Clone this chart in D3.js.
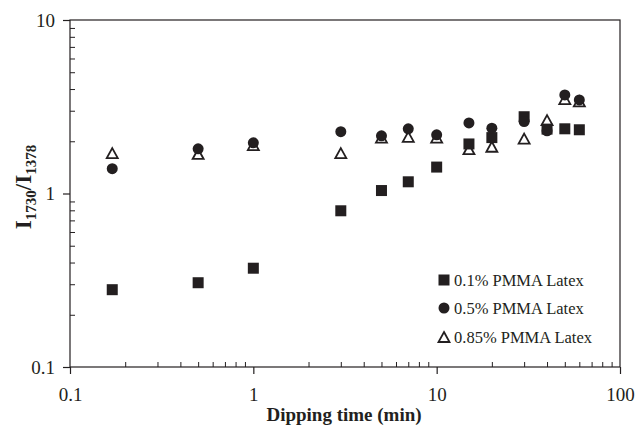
<!DOCTYPE html>
<html><head><meta charset="utf-8">
<script src="https://cdn.jsdelivr.net/npm/d3@7"></script>
<style>body{margin:0;background:#fff}svg{display:block}text{font-family:"Liberation Serif","Times New Roman",serif;fill:#231f20}</style>
</head><body>
<script>
const times = [0.17, 0.5, 1, 3, 5, 7, 10, 15, 20, 30, 40, 50, 60];
const pmma01 = [0.279, 0.306, 0.371, 0.795, 1.04, 1.168, 1.42, 1.93, 2.1, 2.77, 2.35, 2.36, 2.33];
const pmma05 = [1.39, 1.81, 1.96, 2.27, 2.15, 2.36, 2.18, 2.55, 2.38, 2.6, 2.3, 3.7, 3.46];
const pmma085 = [1.71, 1.69, 1.9, 1.71, 2.1, 2.12, 2.1, 1.8, 1.86, 2.07, 2.65, 3.5, 3.4];
const seriesNames = ["0.1% PMMA Latex", "0.5% PMMA Latex", "0.85% PMMA Latex"];
const xTicks = [0.1, 1, 10, 100];
const yTicks = [0.1, 1, 10];

const W = 636, H = 426;
const m = {l: 70, r: 16, t: 20, b: 59};
const svg = d3.select("body").append("svg").attr("width", W).attr("height", H);
const x = d3.scaleLog().domain([0.1, 100]).range([m.l, W - m.r]);
const y = d3.scaleLog().domain([0.1, 10]).range([H - m.b, m.t]);
const ink = "#231f20";

const minorX = [], minorY = [];
[0.1, 1, 10].forEach(d => { for (let k = 2; k <= 9; k++) { minorX.push(d * k); } });
[0.1, 1].forEach(d => { for (let k = 2; k <= 9; k++) { minorY.push(d * k); } });

const g = svg.append("g");
g.append("rect").attr("x", m.l).attr("y", m.t).attr("width", W - m.r - m.l).attr("height", H - m.b - m.t)
  .attr("fill", "none").attr("stroke", ink).attr("stroke-width", 1.2);

const xAxis = d3.axisBottom(x).tickValues(xTicks).tickFormat(d3.format("")).tickSize(7).tickPadding(14);
const gx = g.append("g").attr("transform", `translate(0,${H - m.b})`).call(xAxis);
gx.select(".domain").remove();
gx.selectAll("line").attr("stroke", ink).attr("stroke-width", 1.2);
gx.selectAll("text").attr("font-size", 19).attr("font-family", "Liberation Serif").attr("fill", ink);
const gxm = g.append("g").attr("transform", `translate(0,${H - m.b})`).call(d3.axisTop(x).tickValues(minorX).tickFormat("").tickSize(5));
gxm.select(".domain").remove();
gxm.selectAll("line").attr("stroke", ink).attr("stroke-width", 1);

const yAxis = d3.axisLeft(y).tickValues(yTicks).tickFormat(d3.format("")).tickSize(7).tickPadding(8);
const gy = g.append("g").attr("transform", `translate(${m.l},0)`).call(yAxis);
gy.select(".domain").remove();
gy.selectAll("line").attr("stroke", ink).attr("stroke-width", 1.2);
gy.selectAll("text").attr("font-size", 19).attr("font-family", "Liberation Serif").attr("fill", ink);
const gym = g.append("g").attr("transform", `translate(${m.l},0)`).call(d3.axisRight(y).tickValues(minorY).tickFormat("").tickSize(5));
gym.select(".domain").remove();
gym.selectAll("line").attr("stroke", ink).attr("stroke-width", 1);

svg.append("text").attr("x", 344).attr("y", 421).attr("text-anchor", "middle")
  .attr("font-size", 19).attr("font-weight", "bold").text("Dipping time (min)");
const yl = svg.append("text").attr("transform", "translate(31,187) rotate(-90)").attr("text-anchor", "middle")
  .attr("font-weight", "bold").attr("font-size", 23);
yl.append("tspan").text("I");
yl.append("tspan").attr("font-size", 15).attr("dy", 5).text("1730");
yl.append("tspan").attr("dy", -5).text("/I");
yl.append("tspan").attr("font-size", 15).attr("dy", 5).text("1378");

const S = 11;
function marker(sel, i) {
  if (i === 0) return sel.append("rect").attr("x", -S / 2).attr("y", -S / 2).attr("width", S).attr("height", S).attr("fill", ink);
  if (i === 1) return sel.append("circle").attr("r", S / 2).attr("fill", ink);
  const h = 10, w = 11;
  return sel.append("path").attr("d", `M0,${-h / 2}L${w / 2},${h / 2}L${-w / 2},${h / 2}Z`)
    .attr("fill", "#fff").attr("stroke", ink).attr("stroke-width", 1.8).attr("stroke-linejoin", "miter");
}
const data = [pmma01, pmma05, pmma085];
[2, 0, 1].forEach(i => {
  times.forEach((t, j) => {
    const gg = svg.append("g").attr("transform", `translate(${x(t)},${y(data[i][j])})`);
    marker(gg, i);
  });
});

const lx = 444, ly = [280, 308, 337];
seriesNames.forEach((n, i) => {
  const gg = svg.append("g").attr("transform", `translate(${lx},${ly[i]})`);
  marker(gg, i);
  gg.append("text").attr("x", 10).attr("y", 5.5).attr("font-size", 16.5).text(n);
});
</script>
</body></html>
